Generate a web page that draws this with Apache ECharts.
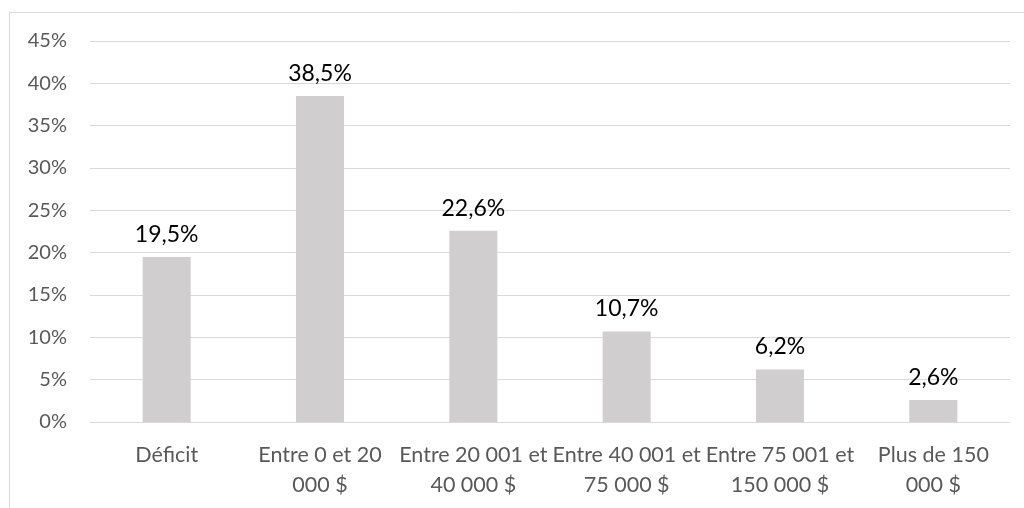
<!DOCTYPE html>
<html><head><meta charset="utf-8">
<script src="https://cdn.jsdelivr.net/npm/echarts@6/dist/echarts.min.js"></script>
<style>html,body{margin:0;padding:0;background:#fff;}#c{width:1024px;height:508px;}</style>
</head><body><div id="c"></div>
<script>
const categories = ["Déficit", "Entre 0 et 20\n000 $", "Entre 20 001 et\n40 000 $", "Entre 40 001 et\n75 000 $", "Entre 75 001 et\n150 000 $", "Plus de 150\n000 $"];
const values = [19.5, 38.5, 22.6, 10.7, 6.2, 2.6];
const yTicks = {min: 0, max: 45, interval: 5};
const FONT = "Lato, 'Open Sans', sans-serif";
const chart = echarts.init(document.getElementById('c'));
chart.setOption({
  animation: false,
  backgroundColor: '#fff',
  graphic: [{type: 'rect', shape: {x: 9.5, y: 12.5, width: 1100, height: 600}, style: {fill: 'none', stroke: '#d9d9d9', lineWidth: 1}, silent: true, z: -1}],
  grid: {left: 90, right: 14, top: 41, bottom: 86},
  xAxis: {
    type: 'category', data: categories,
    axisLine: {show: true, lineStyle: {color: '#d9d9d9', width: 1}},
    axisTick: {show: false},
    axisLabel: {color: '#595959', fontSize: 21.5, fontFamily: FONT, lineHeight: 30, margin: 18, interval: 0}
  },
  yAxis: {
    type: 'value', min: yTicks.min, max: yTicks.max, interval: yTicks.interval,
    axisLine: {show: false}, axisTick: {show: false},
    splitLine: {lineStyle: {color: '#d9d9d9', width: 1}},
    axisLabel: {color: '#595959', fontSize: 20, fontFamily: FONT, margin: 23, formatter: v => v + '%'}
  },
  series: [{
    type: 'bar', data: values, barWidth: 48,
    itemStyle: {color: '#d0cece'},
    label: {show: true, position: 'top', distance: 11, color: '#000', fontSize: 23, fontFamily: FONT,
      formatter: p => p.value.toFixed(1).replace('.', ',') + '%'}
  }]
});
</script></body></html>
